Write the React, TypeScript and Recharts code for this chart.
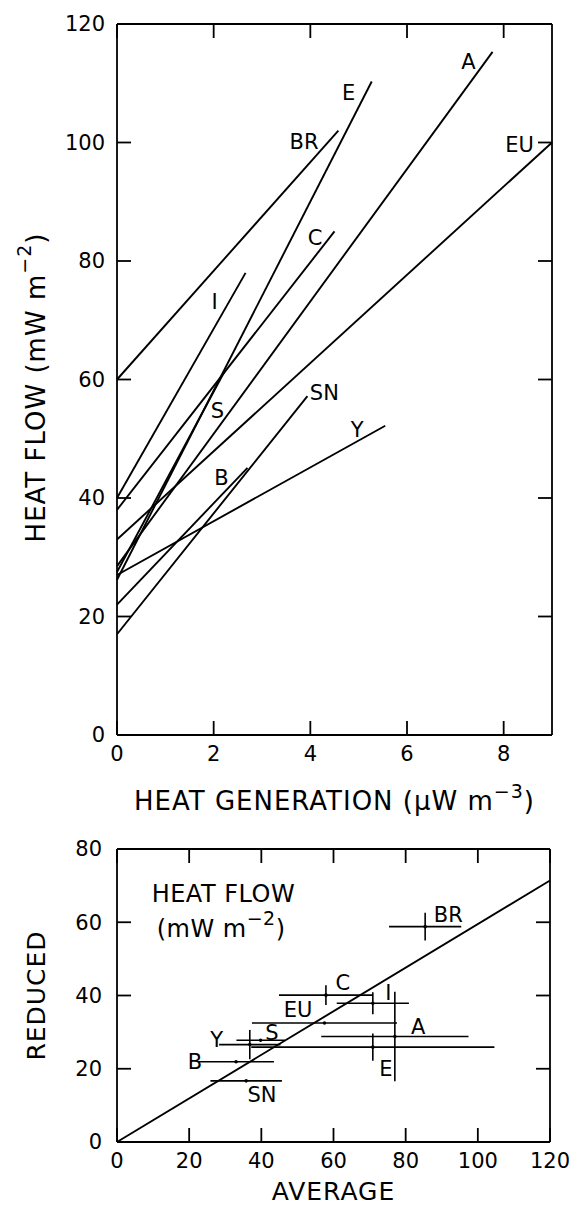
import React from "react";
import { ScatterChart, Scatter, XAxis, YAxis, ErrorBar } from "recharts";

const FONT = "DejaVu Sans";
const INK = "#000";

// ---- top panel: heat flow vs heat generation, one fitted line per province
const lineNames = ["BR", "E", "A", "EU", "C", "I", "S", "SN", "Y", "B"];
const lineStartY = [60, 26.2, 28.5, 33, 38, 40, 27.5, 17, 27, 22];
const lineEndX = [4.58, 5.27, 7.77, 9, 4.5, 2.66, 2.24, 3.94, 5.55, 2.7];
const lineEndY = [102, 110.3, 115.3, 100, 85, 78, 61.6, 57.2, 52.2, 45.1];
const lineLabelX = [3.87, 4.79, 7.27, 8.33, 4.1, 2.02, 2.08, 4.29, 4.97, 2.16];
const lineLabelY = [100.1, 108.3, 113.6, 99.5, 83.8, 73.1, 54.6, 57.7, 51.5, 43.3];
const genTicks = [0, 2, 4, 6, 8];
const flowTicks = [0, 20, 40, 60, 80, 100, 120];

// ---- bottom panel: reduced vs average heat flow
const pointNames = ["BR", "C", "I", "EU", "A", "E", "Y", "S", "B", "SN"];
const averageFlow = [85.4, 57.9, 70.9, 57.5, 77, 70.9, 36.8, 39.8, 33, 35.8];
const reducedFlow = [58.8, 40.1, 37.9, 32.5, 28.8, 25.9, 26.6, 27.8, 21.9, 16.7];
const averageErr = [10, 13, 10, 20.1, 20.4, 33.7, 8.5, 6.7, 10.5, 9.9];
const reducedErr = [3.8, 2.7, 3, 0, 12.2, 3.7, 4, 0, 0, 0];
const pointLabelX = [91.8, 62.6, 75.2, 50.2, 83.5, 74.5, 27.6, 42.9, 21.6, 40.2];
const pointLabelY = [62, 43.3, 40.6, 36, 31.5, 19.8, 27.8, 29.8, 21.8, 12.8];
const fitX = [0, 120];
const fitY = [0, 71.4];
const avgTicks = [0, 20, 40, 60, 80, 100, 120];
const redTicks = [0, 20, 40, 60, 80];

const topLines = lineNames.map((n, i) => ({
  name: n,
  pts: [
    { x: 0, y: lineStartY[i] },
    { x: lineEndX[i], y: lineEndY[i] },
  ],
}));
const topLabels = lineNames.map((n, i) => ({ name: n, x: lineLabelX[i], y: lineLabelY[i] }));

const points = pointNames.map((n, i) => ({
  name: n,
  x: averageFlow[i],
  y: reducedFlow[i],
  xe: averageErr[i],
  ye: reducedErr[i],
}));
const pointLabels = pointNames.map((n, i) => ({ name: n, x: pointLabelX[i], y: pointLabelY[i] }));
const fitLine = fitX.map((x, i) => ({ x, y: fitY[i] }));

const tickStyle = { fill: INK, fontSize: 21, fontFamily: FONT };
const axisStyle = { stroke: INK, strokeWidth: 1.8 };
const NoTick = () => <g />;
const NoShape = () => <g />;

const Dot = (props: any) => <circle cx={props.cx} cy={props.cy} r={1.8} fill={INK} />;

const TextMark = (props: any) => (
  <text
    x={props.cx}
    y={props.cy}
    textAnchor="middle"
    dominantBaseline="central"
    fontFamily={FONT}
    fontSize={21}
    fill={INK}
  >
    {props.payload.name}
  </text>
);

const Sup = ({ t }: { t: string }) => (
  <>
    <tspan dy={-12} fontSize={19}>
      {t}
    </tspan>
    <tspan dy={12}>)</tspan>
  </>
);

const TopXTitle = (props: any) => {
  const { x, y, width } = props.viewBox;
  return (
    <text
      x={x + width / 2}
      y={y + 75}
      textAnchor="middle"
      fontFamily={FONT}
      fontSize={26}
      letterSpacing={1}
      fill={INK}
    >
      HEAT GENERATION (μW m<Sup t="−3" />
    </text>
  );
};

const TopYTitle = (props: any) => {
  const { x, y, height } = props.viewBox;
  const cx = x - 21;
  const cy = y + height / 2 + 8;
  return (
    <text
      x={cx}
      y={cy}
      transform={`rotate(-90 ${cx} ${cy})`}
      textAnchor="middle"
      dominantBaseline="central"
      fontFamily={FONT}
      fontSize={26}
      letterSpacing={1}
      fill={INK}
    >
      HEAT FLOW (mW m<Sup t="−2" />
    </text>
  );
};

const BottomXTitle = (props: any) => {
  const { x, y, width } = props.viewBox;
  return (
    <text x={x + width / 2} y={y + 58} textAnchor="middle" fontFamily={FONT} fontSize={25} letterSpacing={1} fill={INK}>
      AVERAGE
    </text>
  );
};

const BottomYTitle = (props: any) => {
  const { x, y, height } = props.viewBox;
  const cx = x - 21;
  const cy = y + height / 2;
  return (
    <text
      x={cx}
      y={cy}
      transform={`rotate(-90 ${cx} ${cy})`}
      textAnchor="middle"
      dominantBaseline="central"
      fontFamily={FONT}
      fontSize={25}
      letterSpacing={1}
      fill={INK}
    >
      REDUCED
    </text>
  );
};

// note inside the lower panel, anchored at its data position
const noteX = [9.6, 11];
const noteY = [65.6, 56];
const notes = noteX.map((x, i) => ({ x, y: noteY[i], i }));
const NoteMark = (props: any) => {
  const { cx, cy, payload } = props;
  return (
    <text x={cx} y={cy} fontFamily={FONT} fontSize={24} letterSpacing={0.5} fill={INK}>
      {payload.i === 0 ? "HEAT FLOW" : <>(mW m<Sup t="−2" /></>}
    </text>
  );
};

// frame: four mirrored axes so the ticks point inward (size must be > 0 or recharts skips them)
function Frame({ xDomain, yDomain, xTicks, yTicks }: any) {
  return [
    <XAxis key="xb" xAxisId="b" orientation="bottom" mirror height={1} dataKey="x" type="number"
      domain={xDomain} ticks={xTicks} tick={NoTick} tickSize={14} axisLine={axisStyle} tickLine={axisStyle} />,
    <XAxis key="xt" xAxisId="t" orientation="top" mirror height={1} dataKey="x" type="number"
      domain={xDomain} ticks={xTicks} tick={NoTick} tickSize={14} axisLine={axisStyle} tickLine={axisStyle} />,
    <YAxis key="yl" yAxisId="l" orientation="left" mirror width={1} dataKey="y" type="number"
      domain={yDomain} ticks={yTicks} tick={NoTick} tickSize={14} axisLine={axisStyle} tickLine={axisStyle} />,
    <YAxis key="yr" yAxisId="r" orientation="right" mirror width={1} dataKey="y" type="number"
      domain={yDomain} ticks={yTicks} tick={NoTick} tickSize={14} axisLine={axisStyle} tickLine={axisStyle} />,
  ];
}

export default function App() {
  return (
    <div style={{ position: "absolute", left: 0, top: 0, width: 577, height: 1207, background: "#fff" }}>
      <div style={{ position: "absolute", left: 0, top: 0 }}>
        <ScatterChart width={577} height={830} margin={{ top: 24, right: 25, left: 57, bottom: 55 }}>
          <XAxis
            dataKey="x"
            type="number"
            domain={[0, 9]}
            ticks={genTicks}
            height={40}
            tick={tickStyle}
            tickSize={0}
            tickMargin={11}
            axisLine={false}
            tickLine={false}
            label={<TopXTitle />}
          />
          <YAxis
            dataKey="y"
            type="number"
            domain={[0, 120]}
            ticks={flowTicks}
            width={60}
            tick={tickStyle}
            tickSize={0}
            tickMargin={12}
            axisLine={false}
            tickLine={false}
            label={<TopYTitle />}
          />
          {Frame({ xDomain: [0, 9], yDomain: [0, 120], xTicks: genTicks, yTicks: flowTicks })}
          {topLines.map((l, i) => (
            // every axis needs a series bound to it, so the lines are shared between the two pairs
            <Scatter
              key={l.name}
              data={l.pts}
              xAxisId={i < 5 ? 0 : "b"}
              yAxisId={i < 5 ? 0 : "l"}
              line={{ stroke: INK, strokeWidth: 1.9 }}
              shape={NoShape}
              isAnimationActive={false}
            />
          ))}
          <Scatter data={topLabels} xAxisId="t" yAxisId="r" shape={TextMark} isAnimationActive={false} />
        </ScatterChart>
      </div>
      <div style={{ position: "absolute", left: 0, top: 830 }}>
        <ScatterChart width={577} height={377} margin={{ top: 19, right: 27, left: 57, bottom: 25 }}>
          <XAxis
            dataKey="x"
            type="number"
            domain={[0, 120]}
            ticks={avgTicks}
            height={40}
            tick={tickStyle}
            tickSize={0}
            tickMargin={11}
            axisLine={false}
            tickLine={false}
            label={<BottomXTitle />}
          />
          <YAxis
            dataKey="y"
            type="number"
            domain={[0, 80]}
            ticks={redTicks}
            width={60}
            tick={tickStyle}
            tickSize={0}
            tickMargin={15}
            axisLine={false}
            tickLine={false}
            label={<BottomYTitle />}
          />
          {Frame({ xDomain: [0, 120], yDomain: [0, 80], xTicks: avgTicks, yTicks: redTicks })}
          <Scatter
            data={fitLine}
            line={{ stroke: INK, strokeWidth: 1.9 }}
            shape={NoShape}
            isAnimationActive={false}
          />
          <Scatter data={points} xAxisId="b" yAxisId="l" shape={Dot} isAnimationActive={false}>
            <ErrorBar dataKey="xe" direction="x" width={0} stroke={INK} strokeWidth={1.6} />
            <ErrorBar dataKey="ye" direction="y" width={0} stroke={INK} strokeWidth={1.6} />
          </Scatter>
          <Scatter data={pointLabels} xAxisId="t" yAxisId="r" shape={TextMark} isAnimationActive={false} />
          <Scatter data={notes} shape={NoteMark} isAnimationActive={false} />
        </ScatterChart>
      </div>
    </div>
  );
}
